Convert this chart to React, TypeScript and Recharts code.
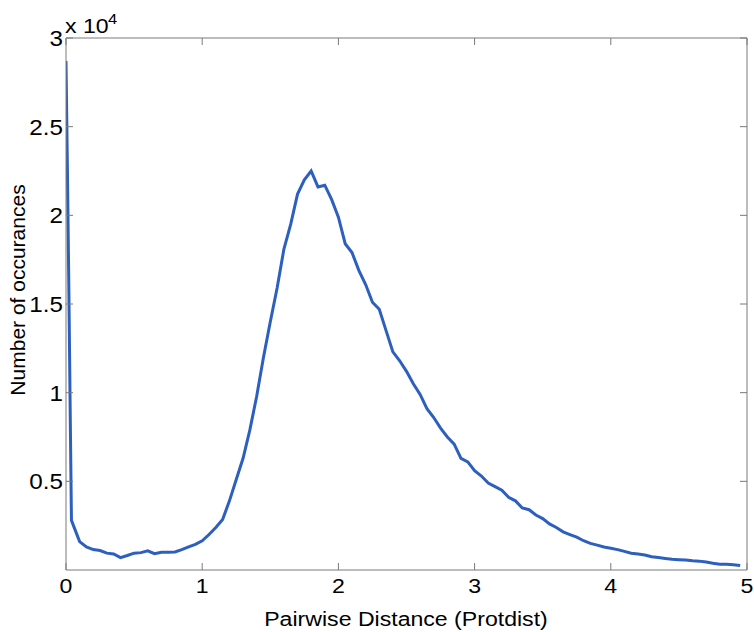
import React from "react";
import { LineChart, Line, XAxis, YAxis } from "recharts";

const distances = [
  0, 0.01, 0.02, 0.03, 0.04, 0.1, 0.15, 0.2, 0.25, 0.3, 0.35, 0.4, 0.45, 0.5,
  0.55, 0.6, 0.65, 0.7, 0.75, 0.8, 0.85, 0.9, 0.95, 1.0, 1.05, 1.1, 1.15, 1.2,
  1.25, 1.3, 1.35, 1.4, 1.45, 1.5, 1.55, 1.6, 1.65, 1.7, 1.75, 1.8, 1.85, 1.9,
  1.95, 2.0, 2.05, 2.1, 2.15, 2.2, 2.25, 2.3, 2.35, 2.4, 2.45, 2.5, 2.55, 2.6,
  2.65, 2.7, 2.75, 2.8, 2.85, 2.9, 2.95, 3.0, 3.05, 3.1, 3.15, 3.2, 3.25, 3.3,
  3.35, 3.4, 3.45, 3.5, 3.55, 3.6, 3.65, 3.7, 3.75, 3.8, 3.85, 3.9, 3.95, 4.0,
  4.05, 4.1, 4.15, 4.2, 4.25, 4.3, 4.35, 4.4, 4.45, 4.5, 4.55, 4.6, 4.65, 4.7,
  4.75, 4.8, 4.85, 4.9, 4.95,
];

const occurrences = [
  28700, 22800, 16500, 9500, 2800, 1600, 1300, 1150, 1100, 950, 900, 700, 820,
  950, 980, 1080, 920, 1000, 1000, 1020, 1150, 1300, 1450, 1650, 2000, 2400,
  2850, 3900, 5100, 6300, 7900, 9800, 12000, 14000, 15900, 18100, 19500, 21200,
  22000, 22500, 21600, 21700, 20900, 19900, 18400, 17900, 16900, 16100, 15100,
  14700, 13500, 12300, 11800, 11200, 10500, 9900, 9100, 8600, 8000, 7500, 7100,
  6300, 6100, 5600, 5300, 4900, 4700, 4500, 4100, 3900, 3500, 3400, 3100, 2900,
  2600, 2400, 2150, 2000, 1850, 1650, 1500, 1400, 1300, 1230, 1150, 1050, 950,
  900, 850, 750, 700, 650, 600, 580, 560, 520, 500, 450, 380, 330, 320, 300, 250,
];

const xTicks = [0, 1, 2, 3, 4, 5];
const yTicks = [5000, 10000, 15000, 20000, 25000, 30000];

const data = distances.map((d, i) => ({ d, n: occurrences[i] }));

const FONT = '"Liberation Sans", Arial, sans-serif';
const AXIS = "#7a7a7a";

// matlab-ish text: a bit wider than tall
const Txt = ({ x, y, size = 21, anchor = "middle", children }: any) => (
  <text
    transform={`translate(${x},${y}) scale(1.1,1)`}
    textAnchor={anchor}
    fontSize={size}
    fontFamily={FONT}
    fill="#000"
  >
    {children}
  </text>
);

const BottomTick = ({ x, y, payload }: any) => (
  <Txt x={x} y={y + 23}>{payload.value}</Txt>
);

const LeftTick = ({ x, y, payload }: any) => (
  <Txt x={x - 3} y={y + 8} size={22} anchor="end">
    {payload.value / 10000}
  </Txt>
);

const NoTick = () => <g />;

export default function App() {
  return (
    <div style={{ position: "absolute", left: 0, top: 0, width: 754, height: 632, background: "#fff" }}>
      <LineChart
        width={754}
        height={632}
        data={data}
        margin={{ top: 37, right: 6, left: 0, bottom: 0 }}
      >
        <XAxis
          dataKey="d"
          type="number"
          domain={[0, 5]}
          allowDataOverflow
          ticks={xTicks}
          height={62}
          tickSize={-7}
          tickMargin={7}
          tickLine={{ stroke: AXIS }}
          tick={<BottomTick />}
          axisLine={{ stroke: AXIS }}
          label={{
            content: () => <Txt x={406} y={626}>Pairwise Distance (Protdist)</Txt>,
          }}
        />
        <XAxis
          xAxisId="top"
          dataKey="d"
          orientation="top"
          type="number"
          domain={[0, 5]}
          allowDataOverflow
          ticks={xTicks}
          height={1}
          tickSize={-7}
          tickMargin={0}
          tickLine={{ stroke: AXIS }}
          tick={<NoTick />}
          axisLine={{ stroke: AXIS }}
          label={{
            content: () => (
              <g>
                <Txt x={65} y={33} size={21} anchor="start">x 10</Txt>
                <Txt x={108} y={24} size={15} anchor="start">4</Txt>
              </g>
            ),
          }}
        />
        <YAxis
          type="number"
          domain={[0, 30000]}
          allowDataOverflow
          ticks={yTicks}
          width={66}
          tickSize={-7}
          tickMargin={7}
          tickLine={{ stroke: AXIS }}
          tick={<LeftTick />}
          axisLine={{ stroke: AXIS }}
          label={{
            content: () => (
              <text
                x={25}
                y={290}
                transform="rotate(-90 25 290)"
                textAnchor="middle"
                fontSize={21}
                fontFamily={FONT}
                fill="#000"
              >
                Number of occurances
              </text>
            ),
          }}
        />
        <YAxis
          yAxisId="right"
          dataKey="n"
          orientation="right"
          type="number"
          domain={[0, 30000]}
          allowDataOverflow
          ticks={yTicks}
          width={1}
          tickSize={-7}
          tickMargin={0}
          tickLine={{ stroke: AXIS }}
          tick={<NoTick />}
          axisLine={{ stroke: AXIS }}
        />
        <Line
          dataKey="n"
          type="linear"
          stroke="#2d5fbf"
          strokeWidth={3}
          dot={false}
          isAnimationActive={false}
        />
      </LineChart>
    </div>
  );
}
